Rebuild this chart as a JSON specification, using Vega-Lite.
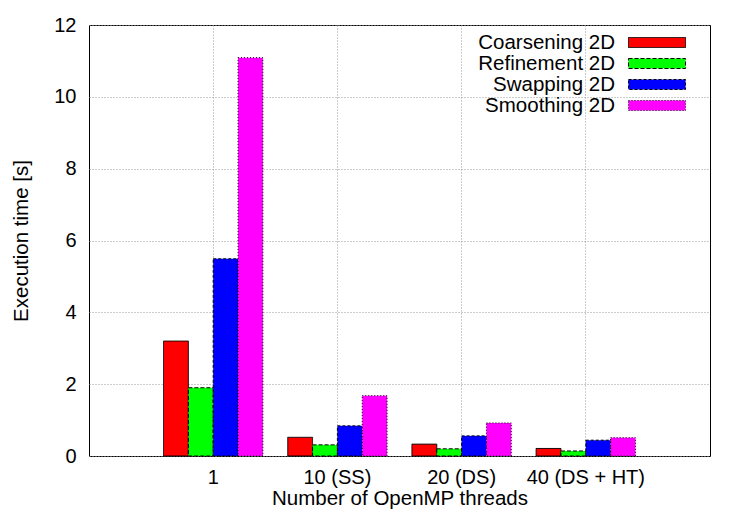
{
  "$schema": "https://vega.github.io/schema/vega-lite/v6.json",
  "width": 621,
  "height": 431,
  "autosize": {"type": "none"},
  "padding": {"left": 89, "top": 25, "right": 37, "bottom": 67},
  "background": "white",
  "config": {
    "font": "Liberation Sans",
    "view": {"stroke": "black", "strokeWidth": 1}
  },
  "data": {
    "values": [
      {"threads": "1", "series": "Coarsening 2D", "time": 3.2},
      {"threads": "1", "series": "Refinement 2D", "time": 1.9},
      {"threads": "1", "series": "Swapping 2D", "time": 5.49},
      {"threads": "1", "series": "Smoothing 2D", "time": 11.09},
      {"threads": "10 (SS)", "series": "Coarsening 2D", "time": 0.52},
      {"threads": "10 (SS)", "series": "Refinement 2D", "time": 0.31},
      {"threads": "10 (SS)", "series": "Swapping 2D", "time": 0.84},
      {"threads": "10 (SS)", "series": "Smoothing 2D", "time": 1.68},
      {"threads": "20 (DS)", "series": "Coarsening 2D", "time": 0.33},
      {"threads": "20 (DS)", "series": "Refinement 2D", "time": 0.2},
      {"threads": "20 (DS)", "series": "Swapping 2D", "time": 0.56},
      {"threads": "20 (DS)", "series": "Smoothing 2D", "time": 0.92},
      {"threads": "40 (DS + HT)", "series": "Coarsening 2D", "time": 0.21},
      {"threads": "40 (DS + HT)", "series": "Refinement 2D", "time": 0.14},
      {"threads": "40 (DS + HT)", "series": "Swapping 2D", "time": 0.44},
      {"threads": "40 (DS + HT)", "series": "Smoothing 2D", "time": 0.51}
    ]
  },
  "mark": {"type": "bar", "stroke": "black", "strokeWidth": 1},
  "encoding": {
    "x": {
      "field": "threads",
      "type": "nominal",
      "sort": ["1", "10 (SS)", "20 (DS)", "40 (DS + HT)"],
      "scale": {"paddingInner": 0.2, "paddingOuter": 0.6},
      "axis": {
        "title": "Number of OpenMP threads",
        "labelAngle": 0,
        "labelFontSize": 20,
        "titleFontSize": 20.5,
        "titleFontWeight": "normal",
        "labelColor": "black",
        "titleColor": "black",
        "domain": false,
        "ticks": false,
        "labelPadding": 11,
        "titlePadding": 1,
        "grid": true,
        "bandPosition": 0.5,
        "gridColor": "#999999",
        "gridDash": [1, 2],
        "gridWidth": 1
      }
    },
    "xOffset": {
      "field": "series",
      "type": "nominal",
      "scale": {"domain": ["Coarsening 2D", "Refinement 2D", "Swapping 2D", "Smoothing 2D"], "paddingInner": 0, "paddingOuter": 0}
    },
    "y": {
      "field": "time",
      "type": "quantitative",
      "scale": {"domain": [0, 12], "nice": false},
      "axis": {
        "title": "Execution time [s]",
        "values": [0, 2, 4, 6, 8, 10, 12],
        "labelFontSize": 20,
        "titleFontSize": 20.5,
        "titleFontWeight": "normal",
        "labelColor": "black",
        "titleColor": "black",
        "domain": false,
        "ticks": false,
        "labelPadding": 13,
        "titlePadding": 22,
        "grid": true,
        "gridColor": "#999999",
        "gridDash": [1, 2],
        "gridWidth": 1
      }
    },
    "color": {
      "field": "series",
      "type": "nominal",
      "scale": {
        "domain": ["Coarsening 2D", "Refinement 2D", "Swapping 2D", "Smoothing 2D"],
        "range": ["#ff0000", "#00ff00", "#0000ff", "#ff00ff"]
      },
      "legend": {
        "orient": "none",
        "legendX": 539,
        "legendY": 7,
        "title": null,
        "symbolType": "M-1,-0.5H4.7V0.5H-1Z",
        "symbolSize": 400,
        "symbolStrokeColor": "black",
        "symbolStrokeWidth": 1,
        "labelAlign": "right",
        "labelOffset": -34,
        "labelFontSize": 20.5,
        "labelColor": "black",
        "labelLimit": 400,
        "rowPadding": 0,
        "padding": 0
      }
    },
    "strokeDash": {
      "field": "series",
      "type": "nominal",
      "scale": {
        "domain": ["Coarsening 2D", "Refinement 2D", "Swapping 2D", "Smoothing 2D"],
        "range": [[1, 0], [4, 2], [3, 2], [1, 2]]
      },
      "legend": null
    }
  }
}
